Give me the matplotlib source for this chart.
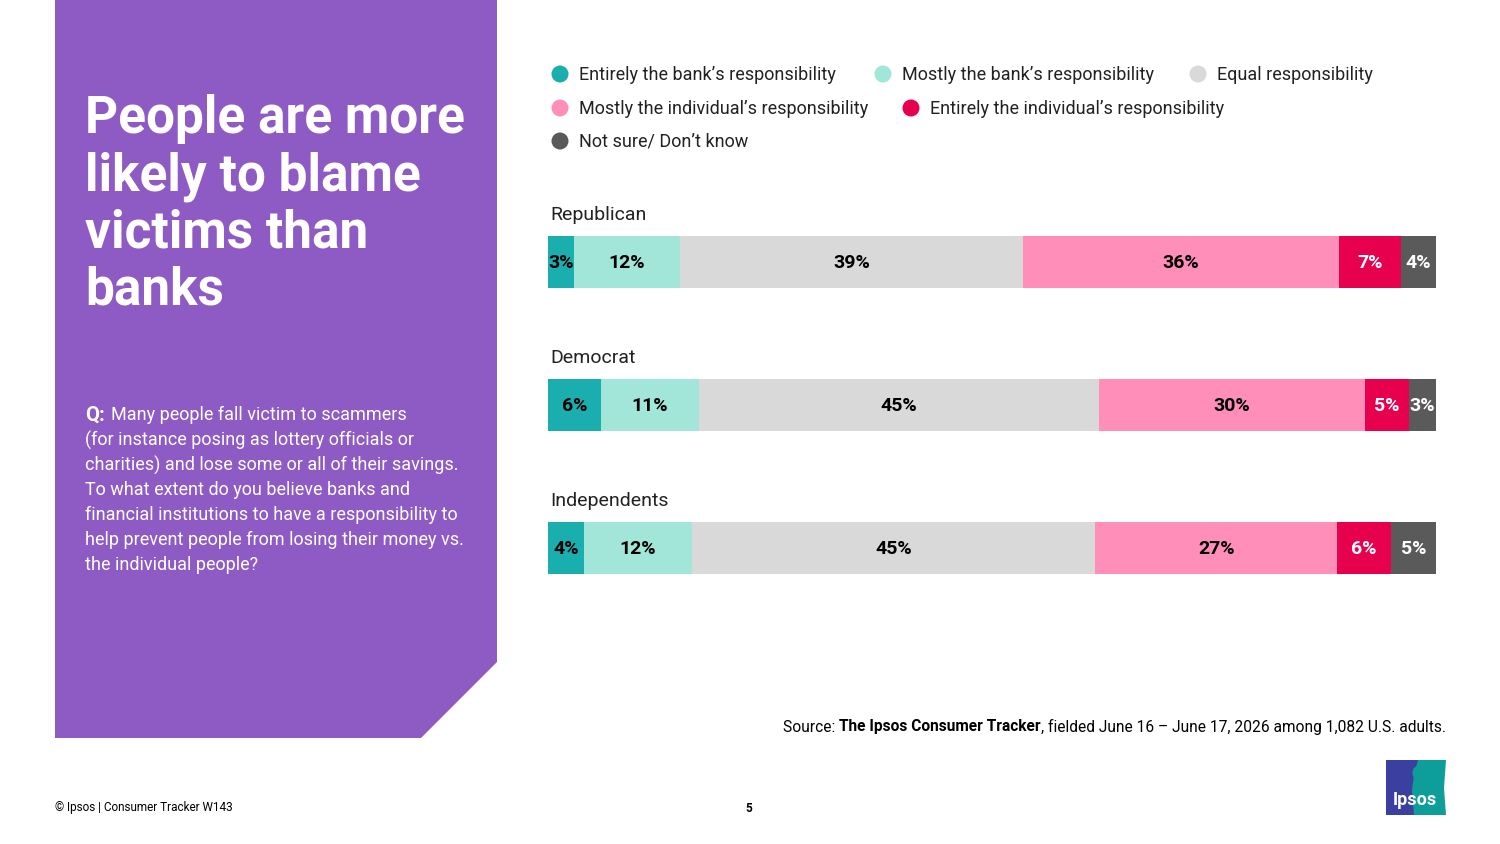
import matplotlib
matplotlib.use("Agg")
import matplotlib.pyplot as plt
from matplotlib.patches import Polygon, Rectangle, Circle, Ellipse
import numpy as np

# ---------------- data ----------------
groups = ["Republican", "Democrat", "Independents"]
categories = [
    "Entirely the bank\u2019s responsibility",
    "Mostly the bank\u2019s responsibility",
    "Equal responsibility",
    "Mostly the individual\u2019s responsibility",
    "Entirely the individual\u2019s responsibility",
    "Not sure/ Don\u2019t know",
]
entirely_bank = [3, 6, 4]
mostly_bank = [12, 11, 12]
equal_resp = [39, 45, 45]
mostly_individual = [36, 30, 27]
entirely_individual = [7, 5, 6]
not_sure = [4, 3, 5]

colors = ["#1AAEAE", "#A2E6D9", "#D9D9D9", "#FF8FB9", "#E6004D", "#5A5A5A"]
label_colors = ["black", "black", "black", "black", "white", "white"]

title = "People are more\nlikely to blame\nvictims than\nbanks"
question_lines = [
    "Many people fall victim to scammers",
    "(for instance posing as lottery officials or",
    "charities) and lose some or all of their savings.",
    "To what extent do you believe banks and",
    "financial institutions to have a responsibility to",
    "help prevent people from losing their money vs.",
    "the individual people?",
]

FONT = "Roboto"
plt.rcParams["font.family"] = [FONT, "DejaVu Sans"]

W, H = 1500, 844
fig = plt.figure(figsize=(W / 100, H / 100), dpi=100)
fig.patch.set_facecolor("white")

# overlay axes in pixel coordinates for the slide decoration
ov = fig.add_axes([0, 0, 1, 1])
ov.set_xlim(0, W)
ov.set_ylim(H, 0)
ov.axis("off")

purple = "#8E5BC4"
ov.add_patch(Polygon([(55, 0), (497, 0), (497, 662), (421, 738), (55, 738)],
                     closed=True, facecolor=purple, edgecolor="none"))

title_lines = title.split("\n")
for i, line in enumerate(title_lines):
    ov.text(85, 119 + i * 57.3, line, color="white", fontsize=37, fontweight="bold",
            va="center", ha="left", family=FONT)

# question
ov.text(85, 415, "Q:", color="white", fontsize=14.5, fontweight="bold", va="center", ha="left")
ov.text(111, 415, question_lines[0], color="white", fontsize=13, va="center", ha="left")
for i, line in enumerate(question_lines[1:], start=1):
    ov.text(85, 415 + i * 25.0, line, color="white", fontsize=13, va="center", ha="left")

# legend (manual flow layout)
leg_pos = [(560, 75), (883, 75), (1198, 75), (560, 109), (911, 109), (560, 142)]
for (x, y), c, lab in zip(leg_pos, colors, categories):
    ov.add_patch(Circle((x, y - 1), 8.5, facecolor=c, edgecolor="none"))
    ov.text(x + 19, y, lab, fontsize=13, va="center", ha="left", color="#222222")

# source / footer
src_a = ov.text(783, 727, "Source: ", fontsize=11.2, ha="left", va="center", color="black")
fig.canvas.draw()
r = fig.canvas.get_renderer()
bb = src_a.get_window_extent(r)
src_b = ov.text(bb.x1, H - 727, "The Ipsos Consumer Tracker", fontsize=11.2, fontweight="bold",
                ha="left", va="center", color="black", transform=None)
bb2 = src_b.get_window_extent(r)
ov.text(bb2.x1, H - 727, ", fielded June 16 \u2013 June 17, 2026 among 1,082 U.S. adults.",
        fontsize=11.2, ha="left", va="center", color="black", transform=None)

ov.text(55, 808, "\u00a9 Ipsos | Consumer Tracker W143", fontsize=8.5, ha="left", va="center", color="black")
ov.text(749, 808, "5", fontsize=8.5, fontweight="bold", ha="center", va="center", color="black")

# Ipsos logo
ov.add_patch(Polygon([(1386, 760), (1446, 760), (1444, 788), (1446, 815), (1386, 815)],
                     closed=True, facecolor="#0E9E9A", edgecolor="none"))
ov.add_patch(Polygon([(1386, 760), (1418, 760), (1414, 775), (1412, 790), (1414, 815), (1386, 815)],
                     closed=True, facecolor="#3B3FA0", edgecolor="none"))
ov.add_patch(Ellipse((1419, 773), 13, 15, facecolor="#0E9E9A", edgecolor="none"))
ov.add_patch(Rectangle((1415, 778), 6, 8, facecolor="#0E9E9A", edgecolor="none"))
ov.text(1415, 800, "Ipsos", fontsize=13, fontweight="bold", color="white", ha="center", va="center")

# ---------------- bar chart ----------------
unit = 143.0
top = 262 - unit / 2
bot = 548 + unit / 2
ax = fig.add_axes([548 / W, 1 - bot / H, 888 / W, (bot - top) / H])
ax.set_xlim(0, 1)
ax.set_ylim(len(groups) - 0.5, -0.5)
ax.axis("off")

series = [entirely_bank, mostly_bank, equal_resp, mostly_individual, entirely_individual, not_sure]
vals = np.array(series, dtype=float)  # shape (6, 3)
totals = vals.sum(axis=0)
y = np.arange(len(groups))
bar_h = 52 / unit
left = np.zeros(len(groups))
for k in range(len(series)):
    w = vals[k] / totals
    ax.barh(y, w, left=left, height=bar_h, color=colors[k], edgecolor="none")
    for i in range(len(groups)):
        ax.text(left[i] + w[i] / 2, y[i] + 0.01, f"{int(vals[k][i])}%", ha="center", va="center",
                fontsize=14, fontweight="bold", color=label_colors[k])
    left += w

for i, g in enumerate(groups):
    ax.text(0.003, y[i] - 0.33, g, fontsize=14, ha="left", va="center", color="#222222")

fig.savefig("out.png", dpi=100, facecolor="white")
